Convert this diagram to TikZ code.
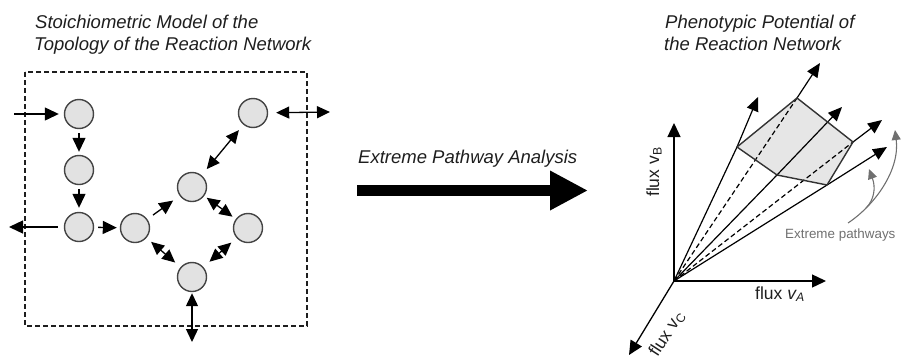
\documentclass[tikz,border=0pt]{standalone}
\usepackage{fontspec}
\setmainfont{Liberation Sans}
\usetikzlibrary{arrows.meta}
\definecolor{ink}{HTML}{1E1E1E}
\definecolor{circfill}{HTML}{E2E2E2}
\definecolor{circline}{HTML}{444444}
\definecolor{polyfill}{HTML}{E6E6E6}
\definecolor{polyline}{HTML}{333333}
\definecolor{annot}{HTML}{707070}
\begin{document}
\begin{tikzpicture}[x=1pt,y=-1pt,
  metab/.style={circle,draw=circline,fill=circfill,line width=1.4pt,minimum size=29pt,inner sep=0pt},
  rxn/.style={draw=black,line width=1.3pt,-{Triangle[length=14pt,width=13pt]}},
  rxnrev/.style={draw=black,line width=1.3pt,{Triangle[length=13pt,width=12pt]}-{Triangle[length=13pt,width=12pt]}},
  title/.style={anchor=base west,inner sep=0pt,font=\fontsize{18.5}{22}\selectfont\itshape,text=ink},
  axislab/.style={inner sep=0pt,font=\fontsize{17.5}{20}\selectfont,text=ink},
  fluxaxis/.style={draw=black,line width=1.3pt,-{Triangle[length=14pt,width=13pt]}},
  ray/.style={draw=black,line width=1.2pt,-{Triangle[length=14pt,width=12pt]}},
  hiddenray/.style={draw=black,line width=1.2pt,dash pattern=on 5pt off 3pt},
  polyedge/.style={draw=polyline,line width=1.4pt,line join=round},
  annotarrow/.style={draw=annot,line width=1.1pt,-{Triangle[length=10pt,width=9pt]}},
  bigarrow/.style={draw=black,line width=11pt,-{Triangle[length=38pt,width=37pt]}},
  boxline/.style={draw=ink,line width=1.1pt,dash pattern=on 5pt off 3pt}
]
\useasboundingbox (0,0) rectangle (901,359);

% ---------- left panel ----------
\node[title] (t1) at (35,28) {Stoichiometric Model of the};
\node[title] (t2) at (34,50) {Topology of the Reaction Network};

\draw[boxline] (25,72) rectangle (307,326);

\node[metab] (A) at (79,114) {};
\node[metab] (B) at (79,170) {};
\node[metab] (C) at (79,227) {};
\node[metab] (D) at (135,228) {};
\node[metab] (E) at (192,187) {};
\node[metab] (F) at (253,113) {};
\node[metab] (G) at (248,228) {};
\node[metab] (H) at (192,277) {};

\coordinate (inA) at (14,114);
\coordinate (outC) at (9,227);
\coordinate (outF) at (330,112);
\coordinate (outH) at (192,342);

\draw[rxn,shorten >=5pt] (inA) -- (A);
\draw[rxn,shorten <=4pt,shorten >=3pt] (A) -- (B);
\draw[rxn,shorten <=4pt,shorten >=4pt] (B) -- (C);
\draw[rxn,shorten <=6pt] (C) -- (outC);
\draw[rxn,shorten <=4pt,shorten >=3pt] (C) -- (D);
\draw[rxn,shorten <=7pt,shorten >=8pt] (D) -- (E);
\draw[rxnrev,shorten <=8pt,shorten >=7pt] (E) -- (F);
\draw[rxnrev,shorten <=8pt] (F) -- (outF);
\draw[rxnrev,shorten <=3pt,shorten >=4pt] (E) -- (G);
\draw[rxnrev,shorten <=6pt,shorten >=7pt] (D) -- (H);
\draw[rxnrev,shorten <=7pt,shorten >=8pt] (G) -- (H);
\draw[rxnrev,shorten <=1pt] (H) -- (outH);

% ---------- middle arrow ----------
\node[title] (mt) at (358,163) {Extreme Pathway Analysis};
\coordinate (ms) at (357,190.5);
\coordinate (me) at (588,190.5);
\draw[bigarrow] (ms) -- (me);

% ---------- right panel ----------
\node[title] (t3) at (665,28) {Phenotypic Potential of};
\node[title] (t4) at (664,50) {the Reaction Network};

\coordinate (O) at (674,281);
\coordinate (TA) at (826,281);
\coordinate (TB) at (674,123);
\coordinate (TC) at (629,355);

\coordinate (P1) at (737,147);
\coordinate (P2) at (797,98);
\coordinate (P3) at (777,175);
\coordinate (P4) at (853,142);
\coordinate (P5) at (827,185);

\coordinate (T1) at (758,97);
\coordinate (T2) at (820,63);
\coordinate (T3) at (842,107);
\coordinate (T4) at (882,120);
\coordinate (T5) at (887,147);

\fill[polyfill] (P1) -- (P2) -- (P4) -- (P5) -- (P3) -- cycle;

\draw[hiddenray] (O) -- (P2);
\draw[hiddenray] (O) -- (P4);
\draw[ray] (O) -- (P1) -- (T1);
\draw[ray] (P2) -- (T2);
\draw[ray] (O) -- (P3) -- (T3);
\draw[ray] (P4) -- (T4);
\draw[ray] (O) -- (P5) -- (T5);

\draw[polyedge] (P1) -- (P2) -- (P4) -- (P5) -- (P3) -- cycle;

\draw[fluxaxis] (O) -- (TA);
\draw[fluxaxis] (O) -- (TB);
\draw[fluxaxis] (O) -- (TC);

\node[axislab,anchor=base west] (lA) at (755,299) {flux {\itshape v\textsubscript{A}}};
\node[axislab,rotate=90] (lB) at (654,172) {flux v\textsubscript{B}};
\node[axislab,rotate=57] (lC) at (667,334) {flux v\textsubscript{C}};

\node[anchor=base west,inner sep=0pt,font=\fontsize{13.4}{16}\selectfont,text=annot] (ep) at (785,238) {Extreme pathways};

\coordinate (g0) at (848,223);
\coordinate (g1) at (866,208);
\coordinate (gL) at (895,130);
\coordinate (gS) at (869,169);
\draw[annotarrow] (g0) .. controls (875,205) and (900,170) .. (gL);
\draw[annotarrow] (g1) .. controls (874,200) and (876,188) .. (gS);
\end{tikzpicture}
\end{document}
